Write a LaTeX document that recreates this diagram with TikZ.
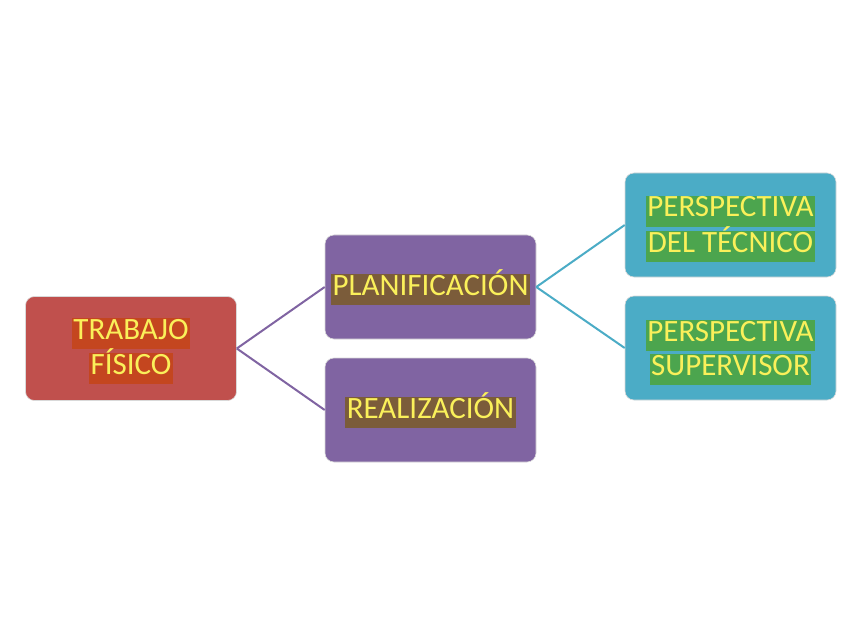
\documentclass[tikz,border=0pt]{standalone}
\usepackage{fontspec}
\setmainfont{Carlito}
\begin{document}
\begin{tikzpicture}[x=1pt,y=-1pt,
  box/.style={draw=white!85!black, line width=0.6pt, rounded corners=9pt, minimum width=211pt, minimum height=104pt, inner sep=0pt},
  redbox/.style={box, fill=boxred},
  purpbox/.style={box, fill=boxpurple},
  bluebox/.style={box, fill=boxblue},
  hl/.style={anchor=base, inner ysep=0pt, inner xsep=1.5pt, text height=21pt, text depth=10pt, text=txtyellow, font=\fontsize{31}{36}\selectfont},
  hlred/.style={hl, fill=hlredc},
  hlbrown/.style={hl, fill=hlbrownc},
  hlgreen/.style={hl, fill=hlgreenc},
  purpline/.style={draw=boxpurple, line width=2pt},
  blueline/.style={draw=boxblue, line width=2pt}
]
\definecolor{boxred}{HTML}{C0504D}
\definecolor{boxpurple}{HTML}{8064A2}
\definecolor{boxblue}{HTML}{4BACC6}
\definecolor{hlredc}{HTML}{C4461F}
\definecolor{hlbrownc}{HTML}{7B5C3A}
\definecolor{hlgreenc}{HTML}{4CA54E}
\definecolor{txtyellow}{HTML}{FAF05A}
\useasboundingbox[fill=white] (0,0) rectangle (848,636);

\node[redbox] (trab) at (131,348.5) {};
\node[purpbox] (plan) at (430.5,287) {};
\node[purpbox] (real) at (430.5,410) {};
\node[bluebox] (tec) at (730.5,225) {};
\node[bluebox] (sup) at (730.5,348) {};

\draw[purpline] (trab.east) -- (plan.west);
\draw[purpline] (trab.east) -- (real.west);
\draw[blueline] (plan.east) -- (tec.west);
\draw[blueline] (plan.east) -- (sup.west);

\node[hlred] (trab1) at (131,339) {TRABAJO};
\node[hlred] (trab2) at (131,374) {FÍSICO};
\node[hlbrown] (plan1) at (430.5,295) {PLANIFICACIÓN};
\node[hlbrown] (real1) at (430.5,418) {REALIZACIÓN};
\node[hlgreen] (tec1) at (730.5,217) {PERSPECTIVA};
\node[hlgreen] (tec2) at (730.5,252) {DEL TÉCNICO};
\node[hlgreen] (sup1) at (730.5,341) {PERSPECTIVA};
\node[hlgreen] (sup2) at (730.5,375) {SUPERVISOR};
\end{tikzpicture}
\end{document}
